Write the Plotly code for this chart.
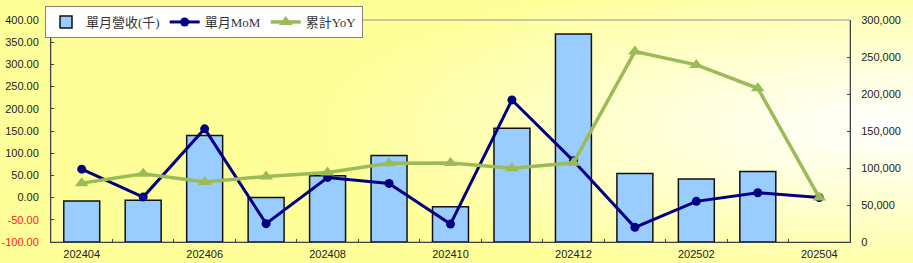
import base64
import plotly.graph_objects as go

months = ["202404", "202405", "202406", "202407", "202408", "202409", "202410",
          "202411", "202412", "202501", "202502", "202503", "202504"]
revenue_k = [55300, 56300, 144000, 60300, 89600, 117000, 47800,
             153800, 281200, 92700, 85000, 95400, None]
mom_pct = [64.1, 1.1, 154.9, -58.7, 45.4, 31.9, -59.6,
           220.0, 82.8, -67.0, -8.5, 11.0, 0.0]
yoy_pct = [32.6, 53.7, 34.9, 47.7, 56.5, 77.6, 77.8,
           66.3, 78.5, 328.8, 298.9, 246.3, 0.0]
left_ticks = [-100, -50, 0, 50, 100, 150, 200, 250, 300, 350, 400]
right_ticks = [0, 50000, 100000, 150000, 200000, 250000, 300000]
x_labels = [m if i % 2 == 0 else "" for i, m in enumerate(months)]

W, H = 913, 263
ML, MR, MT, MB = 51, 63, 20, 21
PW, PH = W - ML - MR, H - MT - MB

svg = f'''<svg xmlns="http://www.w3.org/2000/svg" width="{W}" height="{H}" viewBox="0 0 {W} {H}" preserveAspectRatio="none">
<defs><radialGradient id="g" cx="0.97" cy="0.48" r="0.62">
<stop offset="0" stop-color="#FFFFFF"/><stop offset="0.35" stop-color="#FFFFDD"/>
<stop offset="1" stop-color="#FFFF99"/></radialGradient></defs>
<rect width="{W}" height="{H}" fill="url(#g)"/></svg>'''
bg_src = "data:image/svg+xml;base64," + base64.b64encode(svg.encode()).decode()

left_text = [f'<span style="color:#FF2020">{v:.2f}</span>' if v < 0 else f"{v:.2f}" for v in left_ticks]

fig = go.Figure()
fig.add_trace(go.Bar(
    x=months, y=revenue_k, name="單月營收(千)", yaxis="y", width=0.585,
    marker=dict(color="#99CCFF", line=dict(color="#111111", width=1.5)),
))
fig.add_trace(go.Scatter(
    x=months, y=mom_pct, name="單月MoM", yaxis="y2", mode="lines+markers",
    line=dict(color="#000080", width=3), marker=dict(symbol="circle", size=9, color="#000080"),
))
fig.add_trace(go.Scatter(
    x=months, y=yoy_pct, name="累計YoY", yaxis="y2", mode="lines+markers",
    line=dict(color="#9BBB59", width=3.5), marker=dict(symbol="triangle-up", size=12, color="#9BBB59"),
))

tickfont = dict(family="Liberation Sans, Arial, sans-serif", size=11, color="#222222")
fig.update_layout(
    width=W, height=H,
    margin=dict(l=ML, r=MR, t=MT, b=MB, pad=0, autoexpand=False),
    paper_bgcolor="#FFFF99", plot_bgcolor="#FFFFFF",
    showlegend=True,
    legend=dict(orientation="h", x=-6 / PW, y=1 + (MT - 6) / PH, xanchor="left", yanchor="top",
                bgcolor="#FFFFFF", bordercolor="#808080", borderwidth=1,
                font=dict(family="Liberation Serif, Noto Sans CJK TC, serif", size=13, color="#333333"),
                itemwidth=30, traceorder="normal", tracegroupgap=0),
    bargap=0.4,
    xaxis=dict(type="category", categoryorder="array", categoryarray=months,
               range=[-0.5, len(months) - 0.5],
               tickvals=months, ticktext=x_labels, tickson="boundaries",
               ticks="inside", ticklen=3, tickcolor="#404040",
               showline=True, linecolor="#404040", linewidth=1, showgrid=False,
               tickfont=tickfont, ticklabelstandoff=2, zeroline=False, automargin=False),
    yaxis=dict(side="right", range=[0, 300000], tickvals=right_ticks, tickformat=",",
               ticks="inside", ticklen=3, tickcolor="#404040",
               showline=True, linecolor="#404040", linewidth=1, showgrid=False, zeroline=False,
               tickfont=tickfont, ticklabelstandoff=8, automargin=False),
    yaxis2=dict(side="left", overlaying="y", range=[-100, 400], tickvals=left_ticks, ticktext=left_text,
                ticks="inside", ticklen=3, tickcolor="#404040",
                showline=True, linecolor="#404040", linewidth=1, showgrid=False, zeroline=False,
                tickfont=tickfont, ticklabelstandoff=9, automargin=False),
    shapes=[dict(type="rect", xref="paper", yref="paper", x0=0, x1=1, y0=0, y1=1,
                 line=dict(color="#909090", width=1), layer="below")],
    images=[dict(source=bg_src, xref="paper", yref="paper", x=-ML / PW, y=1 + MT / PH,
                 sizex=W / PW, sizey=H / PH, sizing="stretch", xanchor="left", yanchor="top",
                 layer="below")],
)

fig.write_html("out.html")
